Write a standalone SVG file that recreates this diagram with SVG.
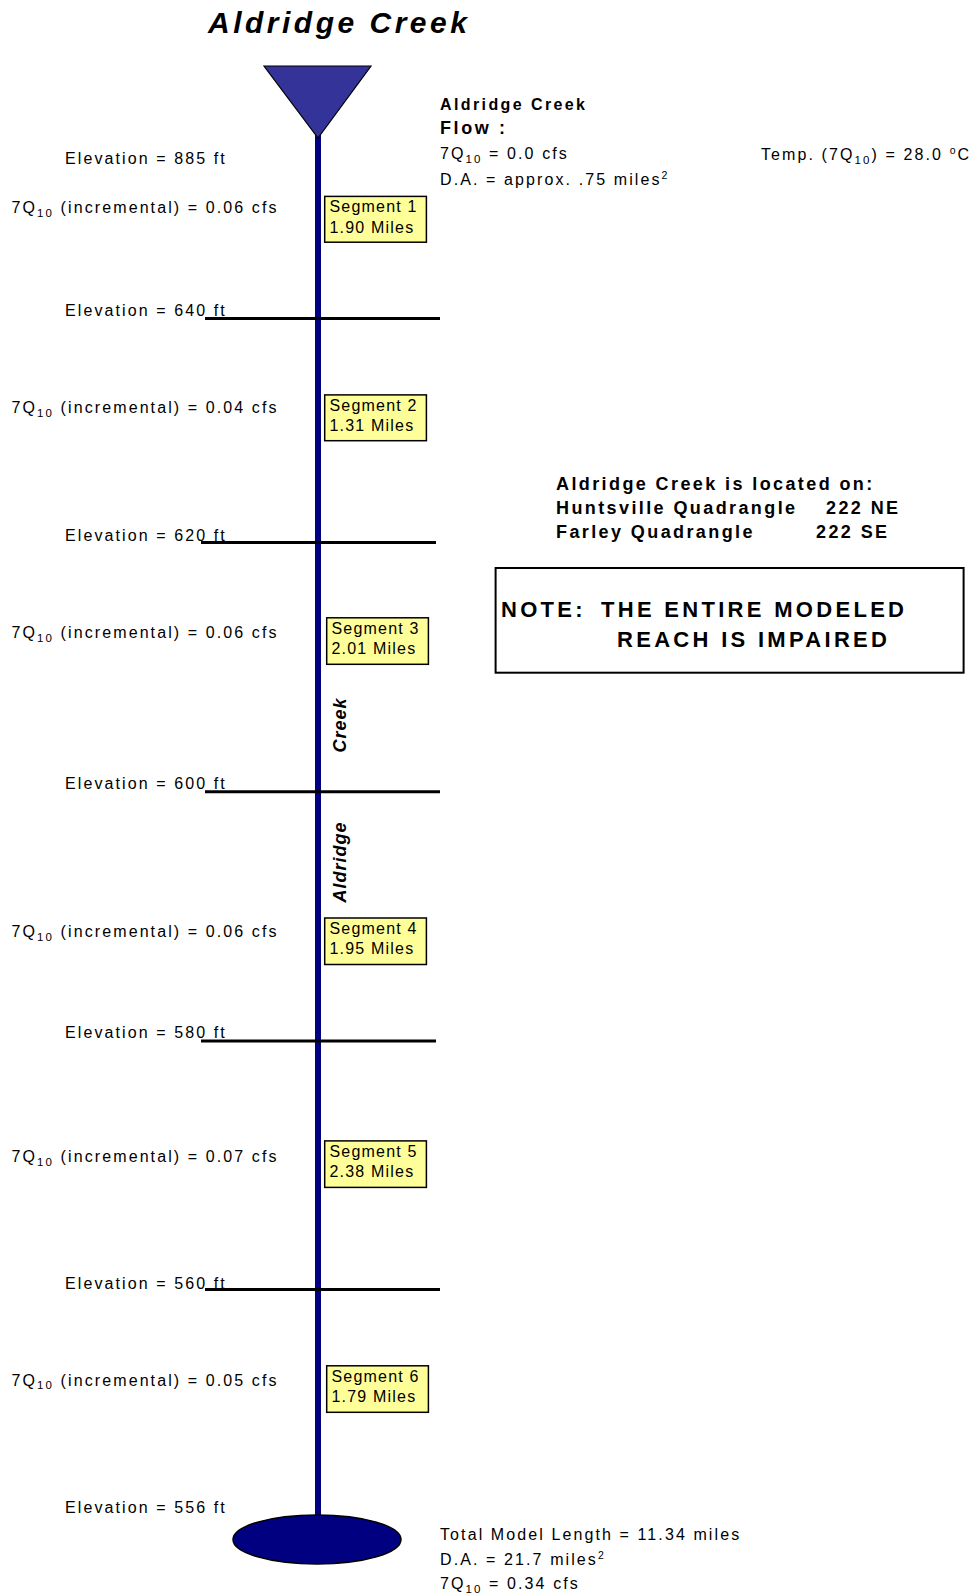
<svg xmlns="http://www.w3.org/2000/svg" width="976" height="1596" viewBox="0 0 976 1596">
<style>
text{font-family:"Liberation Sans",Arial,sans-serif;fill:#000}
.t{font-size:16px;letter-spacing:2.1px}
.seg{font-size:16px;letter-spacing:1.2px}
.b{font-weight:bold}
.title{font-size:30px;font-weight:bold;font-style:italic;letter-spacing:3.5px}
.vt{font-size:18px;font-weight:bold;font-style:italic;letter-spacing:1px}
.loc{font-size:18px;font-weight:bold;letter-spacing:2.4px}
.note{font-size:22px;font-weight:bold;letter-spacing:3.3px}
.box{fill:#ffff99;stroke:#000;stroke-width:1.5}
.elev{stroke:#000;stroke-width:3}
</style>
<rect width="976" height="1596" fill="#fff"/>
<text class="title" x="208" y="33">Aldridge Creek</text>

<g id="connectors">
<line x1="318" y1="134" x2="318" y2="1516" stroke="#000080" stroke-width="6"/>
<line class="elev" x1="205" y1="318.5" x2="440" y2="318.5"/>
<line class="elev" x1="201" y1="542.5" x2="436" y2="542.5"/>
<line class="elev" x1="205" y1="791.8" x2="440" y2="791.8"/>
<line class="elev" x1="201" y1="1041" x2="436" y2="1041"/>
<line class="elev" x1="205" y1="1289.4" x2="440" y2="1289.4"/>
</g>

<g id="source">
<polygon points="264,66 371,66 318,138" fill="#333399" stroke="#000" stroke-width="1.2"/>
</g>
<g id="mouth">
<ellipse cx="317" cy="1539.5" rx="84" ry="24.5" fill="#000080" stroke="#000" stroke-width="1.5"/>
</g>

<g id="creek-label">
<text class="vt" text-anchor="middle" transform="translate(346,725) rotate(-90)">Creek</text>
<text class="vt" text-anchor="middle" transform="translate(346,862) rotate(-90)">Aldridge</text>
</g>

<g id="segment1"><rect class="box" x="324.7" y="196.4" width="101.7" height="45.8"/><text class="seg" x="329.5" y="212">Segment 1</text><text class="seg" x="329.5" y="232.5">1.90 Miles</text></g>
<g id="segment2"><rect class="box" x="324.7" y="394.9" width="101.7" height="45.8"/><text class="seg" x="329.5" y="410.5">Segment 2</text><text class="seg" x="329.5" y="431">1.31 Miles</text></g>
<g id="segment3"><rect class="box" x="326.7" y="617.8" width="101.7" height="46.5"/><text class="seg" x="331.5" y="633.5">Segment 3</text><text class="seg" x="331.5" y="654">2.01 Miles</text></g>
<g id="segment4"><rect class="box" x="324.7" y="918" width="101.7" height="46.5"/><text class="seg" x="329.5" y="933.7">Segment 4</text><text class="seg" x="329.5" y="954.2">1.95 Miles</text></g>
<g id="segment5"><rect class="box" x="324.7" y="1140.9" width="101.7" height="46.5"/><text class="seg" x="329.5" y="1156.6">Segment 5</text><text class="seg" x="329.5" y="1177.1">2.38 Miles</text></g>
<g id="segment6"><rect class="box" x="326.7" y="1365.8" width="101.7" height="46.5"/><text class="seg" x="331.5" y="1381.5">Segment 6</text><text class="seg" x="331.5" y="1402">1.79 Miles</text></g>

<g id="elevations">
<text class="t" x="65" y="164">Elevation = 885 ft</text>
<text class="t" x="65" y="316">Elevation = 640 ft</text>
<text class="t" x="65" y="540.5">Elevation = 620 ft</text>
<text class="t" x="65" y="789">Elevation = 600 ft</text>
<text class="t" x="65" y="1038">Elevation = 580 ft</text>
<text class="t" x="65" y="1288.5">Elevation = 560 ft</text>
<text class="t" x="65" y="1512.5">Elevation = 556 ft</text>
</g>

<g id="flows">
<text class="t" x="11.5" y="213">7Q<tspan font-size="11.5" dy="3.5">10</tspan><tspan dy="-3.5"> (incremental) = 0.06 cfs</tspan></text>
<text class="t" x="11.5" y="413">7Q<tspan font-size="11.5" dy="3.5">10</tspan><tspan dy="-3.5"> (incremental) = 0.04 cfs</tspan></text>
<text class="t" x="11.5" y="638">7Q<tspan font-size="11.5" dy="3.5">10</tspan><tspan dy="-3.5"> (incremental) = 0.06 cfs</tspan></text>
<text class="t" x="11.5" y="937">7Q<tspan font-size="11.5" dy="3.5">10</tspan><tspan dy="-3.5"> (incremental) = 0.06 cfs</tspan></text>
<text class="t" x="11.5" y="1162">7Q<tspan font-size="11.5" dy="3.5">10</tspan><tspan dy="-3.5"> (incremental) = 0.07 cfs</tspan></text>
<text class="t" x="11.5" y="1385.5">7Q<tspan font-size="11.5" dy="3.5">10</tspan><tspan dy="-3.5"> (incremental) = 0.05 cfs</tspan></text>
</g>

<g id="headwater-info">
<text class="t b" x="440" y="110" style="font-size:16px;letter-spacing:2.4px">Aldridge Creek</text>
<text class="t b" x="440" y="134" style="font-size:18px;letter-spacing:2.6px">Flow :</text>
<text class="t" x="440" y="159">7Q<tspan font-size="11.5" dy="3.5">10</tspan><tspan dy="-3.5"> = 0.0 cfs</tspan></text>
<text class="t" x="440" y="185">D.A. = approx. .75 miles<tspan font-size="10.5" dy="-6">2</tspan></text>
<text class="t" x="761" y="160">Temp. (7Q<tspan font-size="11.5" dy="3.5">10</tspan><tspan dy="-3.5">) = 28.0 </tspan><tspan font-size="10.5" dy="-6">o</tspan><tspan dy="6">C</tspan></text>
</g>

<g id="location">
<text class="loc" x="556" y="490">Aldridge Creek is located on:</text>
<text class="loc" x="556" y="514">Huntsville Quadrangle</text>
<text class="loc" x="826" y="514">222 NE</text>
<text class="loc" x="556" y="537.5">Farley Quadrangle</text>
<text class="loc" x="816" y="537.5">222 SE</text>
</g>

<g id="note">
<rect x="495.6" y="568" width="468" height="104.7" fill="#fff" stroke="#000" stroke-width="2"/>
<text class="note" x="501" y="617">NOTE:<tspan x="601">THE ENTIRE MODELED</tspan></text>
<text class="note" x="617" y="647">REACH IS IMPAIRED</text>
</g>

<g id="totals">
<text class="t" x="440" y="1540">Total Model Length = 11.34 miles</text>
<text class="t" x="440" y="1565">D.A. = 21.7 miles<tspan font-size="10.5" dy="-6">2</tspan></text>
<text class="t" x="440" y="1589">7Q<tspan font-size="11.5" dy="3.5">10</tspan><tspan dy="-3.5"> = 0.34 cfs</tspan></text>
</g>
</svg>
